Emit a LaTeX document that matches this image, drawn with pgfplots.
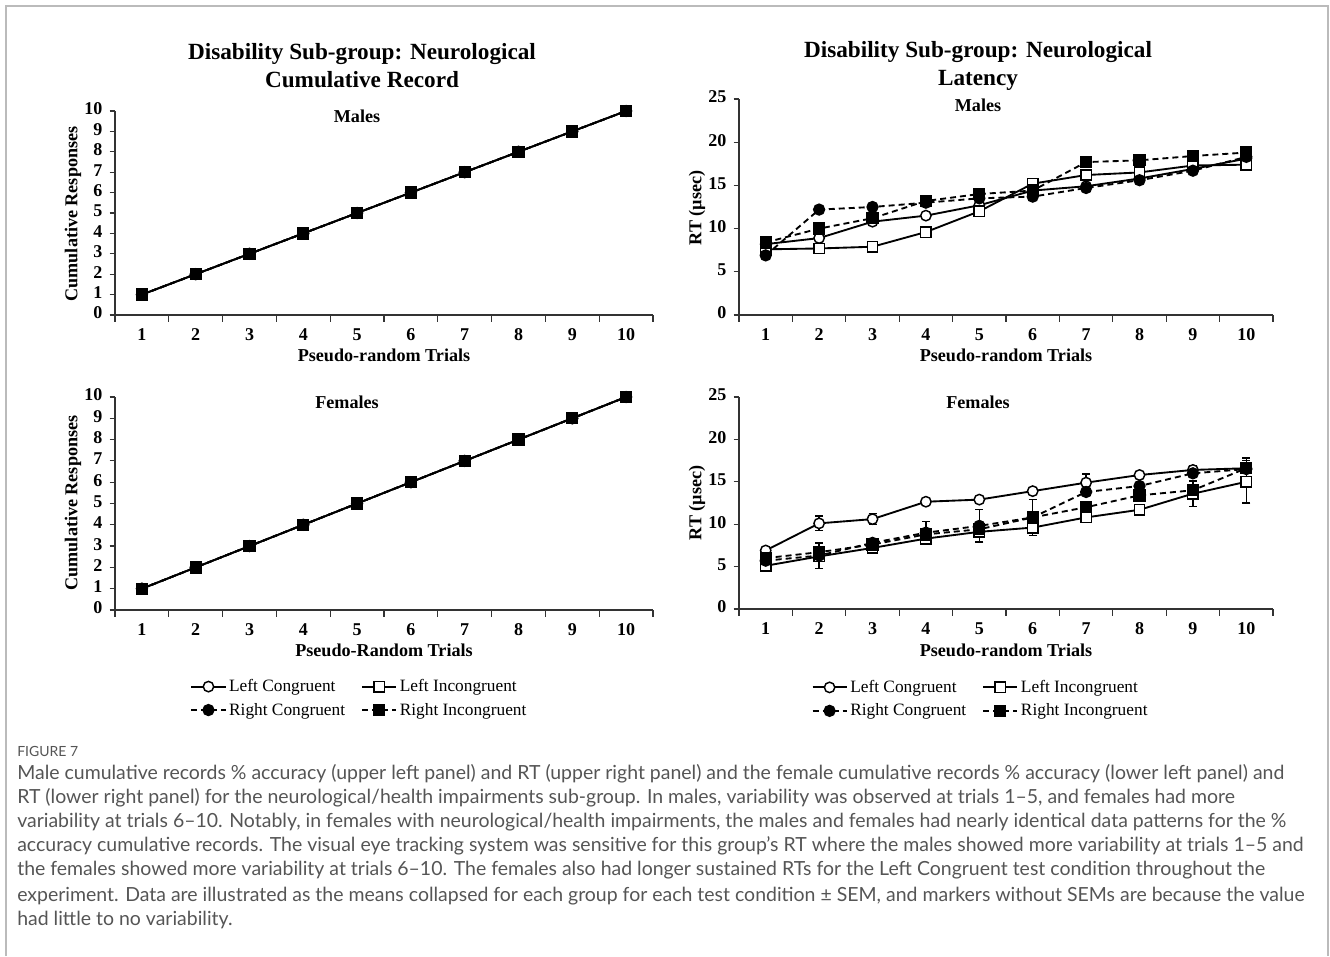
\documentclass[border=0pt]{standalone}
\usepackage{pgfplots}
\pgfplotsset{compat=1.18}
\usepackage{fontspec}
\setmainfont{Liberation Serif}
\newfontfamily\capfont{Lato}
\definecolor{capgray}{HTML}{555555}
\definecolor{framegray}{HTML}{BBBBBB}

\pgfplotsset{
  myax/.style={
    scale only axis, clip=false,
    axis x line=bottom, axis y line=left,
    axis line style={-, line width=0.9pt, black!80},
    xmin=0.5, xmax=10.5, xtick={1,...,10},
    minor xtick={0.5,1.5,...,10.5},
    major x tick style={draw=none},
    minor x tick style={line width=0.9pt, black!80},
    minor tick length=5pt,
    y tick style={line width=0.9pt, black!80},
    major tick length=4pt,
    tick align=outside,
    typeset ticklabels with strut,
    xticklabel style={font=\fontsize{13.5}{15}\selectfont\bfseries, yshift=-1pt},
    yticklabel style={font=\fontsize{13.5}{15}\selectfont\bfseries, xshift=-2pt},
    /pgf/number format/assume math mode=true,
    legend columns=2,
    legend cell align=left,
    legend style={draw=none, fill=none, font=\fontsize{13}{15}\selectfont,
      /tikz/every even column/.append style={column sep=10pt},
      row sep=3pt},
    legend image code/.code={%
      \draw[mark repeat=2,mark phase=2] plot coordinates {(0cm,0cm) (0.45cm,0cm) (0.9cm,0cm)};},
  },
  lc/.style={black, line width=1.4pt, solid, mark=*, mark size=3.9pt, mark options={fill=white, solid, line width=1.1pt}},
  li/.style={black, line width=1.4pt, solid, mark=square*, mark size=3.9pt, mark options={fill=white, solid, line width=1.1pt}},
  rc/.style={black, line width=1.4pt, dash pattern=on 4.5pt off 3pt, mark=*, mark size=3.9pt, mark options={fill=black, solid}},
  ri/.style={black, line width=1.4pt, dash pattern=on 4.5pt off 3pt, mark=square*, mark size=3.9pt, mark options={fill=black, solid}},
  eb/.style={error bars/.cd, y dir=both, y explicit,
    error bar style={line width=1pt, solid, black},
    error mark options={rotate=90, mark size=3pt, line width=1pt, solid, black}},
}

\pgfplotstableread{
x y
1 1
2 2
3 3
4 4
5 5
6 6
7 7
8 8
9 9
10 10
}\cumdata

\pgfplotstableread{
x lc li rc ri
1 8.2 7.6 6.9 8.4
2 8.9 7.7 12.2 10.0
3 10.8 7.9 12.5 11.2
4 11.5 9.6 13.0 13.2
5 12.7 12.0 13.5 14.0
6 14.4 15.2 13.7 14.4
7 14.9 16.2 14.7 17.7
8 15.8 16.5 15.6 17.9
9 16.9 17.3 16.7 18.4
10 18.1 17.4 18.3 18.8
}\maledata

\pgfplotstableread{
x lc lce li lie rc rce ri rie
1 6.9 0.3 5.1 0.3 5.7 0.3 6.0 0.3
2 10.1 0.85 6.2 0.3 6.3 1.5 6.7 0.5
3 10.6 0.65 7.2 0.3 7.8 0.5 7.6 0.4
4 12.65 0.3 8.3 0.3 9.0 1.3 8.8 0.4
5 12.9 0.3 9.1 0.3 9.8 1.9 9.4 0.3
6 13.9 0.2 9.6 0.3 10.8 0.3 10.8 2.1
7 14.9 1.0 10.8 0.3 13.8 0.3 12.0 0.3
8 15.8 0.2 11.7 0.3 14.5 0.3 13.4 0.3
9 16.4 0.5 13.6 1.5 16.0 0.4 14.0 0.4
10 16.6 0.4 15.0 2.5 16.5 0.5 16.6 1.2
}\femaledata

\begin{document}
\begin{tikzpicture}[x=0.75pt, y=0.75pt]
\useasboundingbox (0,0) rectangle (1330,956);
\coordinate (UL) at (115,641);
\coordinate (LL) at (115,346);
\coordinate (UR) at (739,641);
\coordinate (LR) at (739,347);
% frame
\draw[framegray, line width=1.1pt] (6,0) -- (6,950) -- (1328,950) -- (1328,0);

% ---------- titles ----------
\node[align=center, font=\fontsize{17.4}{21}\selectfont\bfseries] at (362,890)
  {Disability Sub-group: Neurological\\Cumulative Record};
\node[align=center, font=\fontsize{17.4}{21}\selectfont\bfseries] at (978,890)
  {Disability Sub-group: Neurological\\Latency};

% ---------- upper left ----------
\begin{axis}[myax, at={(UL)}, anchor=south west,
  width=403.5pt, height=153pt, ymin=0, ymax=10, ytick={0,...,10}]
\addplot[lc] table[x=x,y=y] {\cumdata};
\addplot[li] table[x=x,y=y] {\cumdata};
\addplot[rc] table[x=x,y=y] {\cumdata};
\addplot[ri] table[x=x,y=y] {\cumdata};
\end{axis}

% ---------- lower left ----------
\begin{axis}[myax, at={(LL)}, anchor=south west,
  width=403.5pt, height=159.75pt, ymin=0, ymax=10, ytick={0,...,10},
  legend style={at={(0.455,-0.30)}, anchor=north}]
\addplot[lc] table[x=x,y=y] {\cumdata};
\addplot[li] table[x=x,y=y] {\cumdata};
\addplot[rc] table[x=x,y=y] {\cumdata};
\addplot[ri] table[x=x,y=y] {\cumdata};
\legend{Left Congruent, Left Incongruent, Right Congruent, Right Incongruent}
\end{axis}

% ---------- upper right ----------
\begin{axis}[myax, at={(UR)}, anchor=south west,
  width=400.5pt, height=162pt, ymin=0, ymax=25, ytick={0,5,...,25}]
\addplot[lc] table[x=x,y=lc] {\maledata};
\addplot[li] table[x=x,y=li] {\maledata};
\addplot[rc] table[x=x,y=rc] {\maledata};
\addplot[ri] table[x=x,y=ri] {\maledata};
\end{axis}

% ---------- lower right ----------
\begin{axis}[myax, at={(LR)}, anchor=south west,
  width=400.5pt, height=159pt, ymin=0, ymax=25, ytick={0,5,...,25},
  legend style={at={(0.453,-0.31)}, anchor=north}]
\addplot[lc, eb] table[x=x,y=lc,y error=lce] {\femaledata};
\addplot[li, eb] table[x=x,y=li,y error=lie] {\femaledata};
\addplot[rc, eb] table[x=x,y=rc,y error=rce] {\femaledata};
\addplot[ri, eb] table[x=x,y=ri,y error=rie] {\femaledata};
\legend{Left Congruent, Left Incongruent, Right Congruent, Right Incongruent}
\end{axis}

% ---------- panel labels ----------
\begin{scope}[every node/.style={font=\fontsize{13.6}{15}\selectfont\bfseries}]
\node at (357,840) {Males};
\node at (978,851) {Males};
\node at (347,554) {Females};
\node at (978,554) {Females};
\node at (384,601) {Pseudo-random Trials};
\node at (384,306) {Pseudo-Random Trials};
\node at (1006,601) {Pseudo-random Trials};
\node at (1006,306) {Pseudo-random Trials};
\node[rotate=90] at (73,742) {Cumulative Responses};
\node[rotate=90] at (73,453) {Cumulative Responses};
\node[rotate=90] at (697,748) {RT (µsec)};
\node[rotate=90] at (697,453) {RT (µsec)};
\end{scope}

% ---------- caption ----------
\begin{scope}[every node/.style={anchor=base west, inner sep=0pt, text=capgray, font=\capfont\fontsize{14.6}{17}\selectfont}]
\node[font=\capfont\fontsize{10.5}{12}\selectfont] at (17,199) {FIGURE 7};
\node at (17,176) {Male cumulative records \% accuracy (upper left panel) and RT (upper right panel) and the female cumulative records \% accuracy (lower left panel) and};
\node at (17,152) {RT (lower right panel) for the neurological/health impairments sub-group. In males, variability was observed at trials 1–5, and females had more};
\node at (17,128) {variability at trials 6–10. Notably, in females with neurological/health impairments, the males and females had nearly identical data patterns for the \%};
\node at (17,104) {accuracy cumulative records. The visual eye tracking system was sensitive for this group’s RT where the males showed more variability at trials 1–5 and};
\node at (17,80) {the females showed more variability at trials 6–10. The females also had longer sustained RTs for the Left Congruent test condition throughout the};
\node at (17,55) {experiment. Data are illustrated as the means collapsed for each group for each test condition ± SEM, and markers without SEMs are because the value};
\node at (17,31) {had little to no variability.};
\end{scope}
\end{tikzpicture}
\end{document}
